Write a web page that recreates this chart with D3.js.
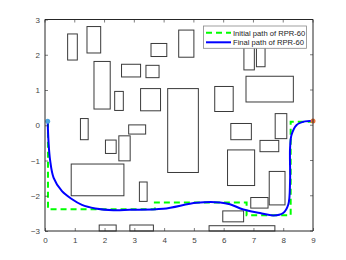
<!DOCTYPE html>
<html><head><meta charset="utf-8">
<script src="https://cdn.jsdelivr.net/npm/d3@7"></script>
<style>body{margin:0;background:#fff}svg{display:block}</style>
</head><body>
<script>
// obstacles: [xmin, ymin, xmax, ymax]
const obstacles = [
  [0.76, 1.85, 1.085, 2.59],
  [1.41, 2.05, 1.87, 2.80],
  [1.645, 0.46, 2.19, 1.81],
  [2.34, 0.42, 2.63, 0.96],
  [2.57, 1.37, 3.21, 1.73],
  [3.39, 1.35, 3.83, 1.70],
  [3.56, 1.95, 4.09, 2.32],
  [3.21, 0.41, 3.88, 1.04],
  [4.12, -1.34, 5.15, 1.04],
  [4.49, 1.93, 5.00, 2.70],
  [6.68, 1.57, 7.03, 2.30],
  [7.10, 1.66, 7.39, 2.30],
  [6.75, 0.66, 8.34, 1.39],
  [5.70, 0.39, 6.32, 1.10],
  [7.73, -0.38, 8.12, 0.33],
  [1.19, -0.41, 1.45, 0.19],
  [2.03, -0.80, 2.39, -0.42],
  [2.48, -1.01, 2.86, -0.30],
  [2.81, -0.25, 3.38, 0.01],
  [0.88, -2.00, 2.65, -1.10],
  [3.17, -2.16, 3.43, -1.61],
  [1.82, -3.0, 2.39, -2.83],
  [2.85, -3.0, 3.64, -2.83],
  [6.24, -0.41, 6.93, 0.05],
  [7.22, -0.75, 7.85, -0.43],
  [6.13, -1.71, 7.04, -0.70],
  [7.53, -2.26, 8.06, -1.31],
  [6.91, -2.35, 7.49, -2.05],
  [5.97, -2.74, 6.67, -2.43],
  [5.51, -3.0, 7.72, -2.85]
];
const initialX = [0.1, 0.1, 3.69, 3.69, 6.77, 6.77, 8.25, 8.25, 9.0];
const initialY = [0.1, -2.38, -2.38, -2.19, -2.19, -2.55, -2.55, 0.1, 0.1];
const finalX = [0.09, 0.12, 0.17, 0.29, 0.57, 0.91, 1.24, 1.69, 2.3, 2.85, 3.97, 5.09, 5.88, 6.21, 6.66, 7.22, 7.67, 8.0, 8.17, 8.23, 8.23, 8.28, 8.45, 8.73, 9.0];
const finalY = [0.11, -0.5, -0.98, -1.49, -1.87, -2.10, -2.26, -2.36, -2.41, -2.40, -2.37, -2.20, -2.19, -2.24, -2.39, -2.49, -2.56, -2.49, -2.25, -1.59, -0.65, -0.27, 0.01, 0.11, 0.12];
const startPt = [0.09, 0.11];
const endPt = [9.0, 0.12];
const xTicks = [0,1,2,3,4,5,6,7,8,9];
const yTicks = [-3,-2,-1,0,1,2,3];
const legendLabels = ["Initial path of RPR-60", "Final path of RPR-60"];

const W = 346, H = 260;
const L = 45, R = 313, T = 19.5, B = 231;
const svg = d3.select("body").append("svg").attr("width", W).attr("height", H);
const x = d3.scaleLinear().domain([0, 9]).range([L, R]);
const y = d3.scaleLinear().domain([-3, 3]).range([B, T]);
const font = "Liberation Sans, Arial, sans-serif";

// obstacles
svg.append("g").selectAll("rect").data(obstacles).join("rect")
  .attr("x", d => x(d[0])).attr("y", d => y(d[3]))
  .attr("width", d => x(d[2]) - x(d[0])).attr("height", d => y(d[1]) - y(d[3]))
  .attr("fill", "none").attr("stroke", "#3a3a3a").attr("stroke-width", 1);

// initial path
const initPts = initialX.map((v, i) => [v, initialY[i]]);
svg.append("path").datum(initPts)
  .attr("d", d3.line().x(d => x(d[0])).y(d => y(d[1])))
  .attr("fill", "none").attr("stroke", "#00ff00").attr("stroke-width", 2)
  .attr("stroke-dasharray", "6,4");

// final path
const finPts = finalX.map((v, i) => [v, finalY[i]]);
svg.append("path").datum(finPts)
  .attr("d", d3.line().x(d => x(d[0])).y(d => y(d[1])).curve(d3.curveCatmullRom.alpha(0.5)))
  .attr("fill", "none").attr("stroke", "#0000ff").attr("stroke-width", 2);

// markers
svg.append("circle").attr("cx", x(startPt[0])).attr("cy", y(startPt[1])).attr("r", 2.5).attr("fill", "#4aa3df");
svg.append("circle").attr("cx", x(endPt[0])).attr("cy", y(endPt[1])).attr("r", 2.5).attr("fill", "#e8743b");

// axes
const axColor = "#262626";
const gx = svg.append("g").attr("transform", `translate(0,${B})`)
  .call(d3.axisBottom(x).tickValues(xTicks).tickSize(-3).tickPadding(6).tickFormat(d3.format("d")));
const gy = svg.append("g").attr("transform", `translate(${L},0)`)
  .call(d3.axisLeft(y).tickValues(yTicks).tickSize(-3).tickPadding(5).tickFormat(d3.format("d")));
[gx, gy].forEach(g => {
  g.select(".domain").attr("stroke", axColor).attr("stroke-width", 1);
  g.selectAll(".tick line").attr("stroke", axColor).attr("stroke-width", 0.6);
  g.selectAll(".tick text").attr("fill", "#444").attr("font-family", font).attr("font-size", 8);
});
gx.select(".domain").attr("d", `M${L},0H${R}`);
gy.select(".domain").attr("d", `M0,${T}V${B}`);
// box top/right
svg.append("path").attr("d", `M${L},${T}H${R}V${B}`).attr("fill", "none").attr("stroke", axColor).attr("stroke-width", 1);
// top/right ticks
svg.append("g").selectAll("line").data(xTicks).join("line")
  .attr("x1", d => x(d)).attr("x2", d => x(d)).attr("y1", T).attr("y2", T + 3)
  .attr("stroke", axColor).attr("stroke-width", 0.6);
svg.append("g").selectAll("line").data(yTicks).join("line")
  .attr("x1", R).attr("x2", R - 3).attr("y1", d => y(d)).attr("y2", d => y(d))
  .attr("stroke", axColor).attr("stroke-width", 0.6);

// legend
const lg = svg.append("g");
lg.append("rect").attr("x", 203.5).attr("y", 26).attr("width", 103).attr("height", 22.3)
  .attr("fill", "#fff").attr("stroke", "#888").attr("stroke-width", 0.8);
const rows = [32.7, 42.3];
lg.append("line").attr("x1", 206).attr("x2", 231).attr("y1", rows[0]).attr("y2", rows[0])
  .attr("stroke", "#00ff00").attr("stroke-width", 2).attr("stroke-dasharray", "6,4");
lg.append("line").attr("x1", 206).attr("x2", 231).attr("y1", rows[1]).attr("y2", rows[1])
  .attr("stroke", "#0000ff").attr("stroke-width", 2);
lg.selectAll("text").data(legendLabels).join("text")
  .attr("x", 233).attr("y", (d, i) => rows[i] + 2.8)
  .attr("font-family", font).attr("font-size", 7.6).attr("fill", "#222").text(d => d);
</script>
</body></html>
